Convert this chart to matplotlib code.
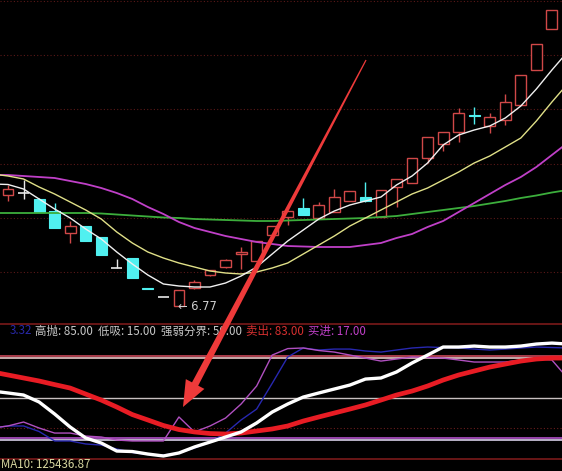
import numpy as np
import matplotlib
matplotlib.use('Agg')
import matplotlib.pyplot as plt
from matplotlib.patches import Polygon

plt.rcParams['font.family'] = ['Noto Sans CJK SC', 'DejaVu Sans']

# ---- candles (price) ----
opens  = [8.99, 9.03, 8.91, 8.67, 8.23, 8.37, 8.15, 7.53, 7.73, 7.14, 6.95, 6.77,
          7.13, 7.39, 7.55, 7.81, 7.67, 8.19, 8.55, 8.73, 8.53, 8.65, 8.87, 8.95,
          8.55, 9.15, 9.23, 9.73, 10.01, 10.25, 10.60, 10.37, 10.49, 10.79, 11.49, 12.31]
closes = [9.11, 9.03, 8.65, 8.33, 8.37, 8.07, 7.79, 7.53, 7.33, 7.12, 6.95, 7.09,
          7.25, 7.49, 7.69, 7.85, 8.07, 8.37, 8.67, 8.59, 8.79, 8.95, 9.07, 8.87,
          9.09, 9.31, 9.73, 10.15, 10.25, 10.63, 10.58, 10.55, 10.85, 11.39, 12.01, 12.69]
highs  = [9.19, 9.29, 8.93, 8.83, 8.47, 8.37, 8.15, 7.71, 7.73, 7.14, 6.95, 7.09,
          7.29, 7.49, 7.71, 7.95, 8.07, 8.37, 8.67, 8.93, 8.85, 9.11, 9.07, 9.25,
          9.09, 9.31, 9.73, 10.15, 10.25, 10.73, 10.75, 10.63, 11.01, 11.39, 12.01, 12.69]
lows   = [8.87, 8.91, 8.65, 8.33, 8.03, 8.07, 7.79, 7.53, 7.33, 7.12, 6.95, 6.77,
          7.11, 7.37, 7.53, 7.51, 7.67, 8.17, 8.39, 8.59, 8.53, 8.65, 8.87, 8.85,
          8.55, 8.75, 9.23, 9.63, 9.87, 10.05, 10.41, 10.23, 10.39, 10.79, 11.49, 12.31]
low_label = '6.77'
low_index = 11

# ---- moving averages, index -1 .. 36 ----
ma5  = [9.21, 9.20, 9.11, 8.91, 8.71, 8.53, 8.31, 8.11, 7.85, 7.61, 7.39, 7.21, 7.17,
        7.15, 7.15, 7.23, 7.37, 7.55, 7.81, 8.07, 8.29, 8.51, 8.67, 8.79, 8.87, 8.95,
        9.19, 9.37, 9.63, 9.99, 10.19, 10.29, 10.37, 10.53, 10.77, 11.11, 11.49, 11.85]
ma10 = [9.41, 9.37, 9.31, 9.15, 9.01, 8.85, 8.69, 8.51, 8.25, 8.03, 7.85, 7.73, 7.63,
        7.55, 7.47, 7.43, 7.41, 7.45, 7.53, 7.63, 7.81, 7.99, 8.17, 8.37, 8.53, 8.69,
        8.85, 9.01, 9.13, 9.29, 9.45, 9.63, 9.77, 9.95, 10.13, 10.47, 10.85, 11.21]
ma20 = [9.39, 9.39, 9.37, 9.35, 9.33, 9.27, 9.21, 9.13, 9.03, 8.91, 8.75, 8.61, 8.45,
        8.33, 8.25, 8.17, 8.11, 8.05, 8.01, 7.97, 7.96, 7.95, 7.95, 7.95, 7.99, 8.03,
        8.13, 8.21, 8.35, 8.47, 8.65, 8.83, 9.01, 9.19, 9.35, 9.55, 9.79, 10.03]
ma60 = [8.63, 8.63, 8.63, 8.63, 8.63, 8.63, 8.63, 8.62, 8.60, 8.58, 8.56, 8.54, 8.53,
        8.51, 8.50, 8.49, 8.48, 8.47, 8.47, 8.48, 8.49, 8.50, 8.51, 8.52, 8.53, 8.55,
        8.57, 8.61, 8.65, 8.69, 8.73, 8.77, 8.82, 8.87, 8.93, 8.98, 9.04, 9.09]
grid_levels = [12.87, 11.79, 10.71, 9.61, 8.53, 7.45]

# ---- indicator panel, index -1 .. 36 ----
fast = [55.8, 54.2, 52.5, 46.7, 36.7, 25.8, 16.7, 12.5, 5.8, 5.4, 3.3, 1.7, 4.2, 9.2,
        13.3, 17.5, 21.7, 29.2, 38.3, 45.0, 50.8, 54.2, 57.5, 60.8, 65.8, 66.7, 71.7,
        79.2, 85.8, 92.5, 92.5, 93.3, 92.5, 92.5, 93.3, 95.0, 95.8, 95.0]
slow = [71.7, 69.2, 66.7, 64.2, 61.2, 58.3, 53.3, 48.3, 42.5, 36.2, 31.7, 27.1, 23.7,
        21.7, 20.4, 20.0, 20.8, 22.5, 24.2, 26.7, 30.8, 34.2, 37.5, 40.8, 44.2, 48.3,
        52.5, 55.8, 60.0, 65.0, 69.2, 72.5, 75.8, 78.3, 80.8, 82.5, 83.3, 83.3]
blue = [25.0, 26.7, 26.7, 22.1, 14.2, 14.2, 11.7, 10.8, 7.5, 4.6, 2.9, 2.5, 4.2, 8.3,
        13.3, 20.8, 31.7, 40.8, 62.2, 84.2, 91.7, 90.0, 90.8, 90.8, 89.2, 88.3, 90.0,
        91.7, 92.5, 92.1, 91.7, 90.8, 90.0, 90.8, 91.7, 92.5, 92.1, 91.7]
pink = [25.0, 26.7, 30.0, 25.0, 20.8, 20.8, 18.3, 17.5, 15.0, 14.2, 14.2, 14.2, 34.2,
        21.7, 26.7, 33.3, 45.0, 60.0, 85.8, 91.2, 91.7, 89.6, 88.3, 85.8, 83.3, 80.8,
        82.5, 84.2, 83.8, 83.3, 81.7, 80.0, 80.0, 80.0, 81.7, 82.9, 81.7, 66.7]
level_high, level_low, level_mid, level_sell, level_buy = 85, 15, 50, 83, 17
prev_value = '3.32'
ma10_vol = '125436.87'

n = len(opens)
x = np.arange(n)
xl = np.arange(-1, n + 1)

fig = plt.figure(figsize=(5.62, 4.71), dpi=100, facecolor='black')
ax1 = fig.add_axes([0, 1 - 322 / 471, 1, 322 / 471], facecolor='black')
ax2 = fig.add_axes([0, 1 - 459 / 471, 1, 135 / 471], facecolor='black')
for ax in (ax1, ax2):
    ax.set_xlim(-8 / 15.54, 554 / 15.54)
    ax.set_xticks([])
    ax.set_yticks([])
for s in ax1.spines.values():
    s.set_visible(False)
ax1.set_ylim(6.45, 12.89)
ax2.set_ylim(-0.83, 111.7)
for k, s in ax2.spines.items():
    s.set_visible(k in ('top', 'bottom'))
    s.set_color('#7a1a1a')
    s.set_linewidth(1.2)

# top panel
for g in grid_levels:
    ax1.axhline(g, color='#5a1818', lw=0.8, ls=(0, (1, 2)), zorder=1)

up_c, dn_c, flat_c = '#d04848', '#50f0f0', '#e8e8e8'
w = 0.7
for i in range(n):
    o, c, h, l = opens[i], closes[i], highs[i], lows[i]
    if c > o:
        col = up_c
        ax1.vlines(i, l, h, color=col, lw=1, zorder=2)
        ax1.bar(i, c - o, bottom=o, width=w, facecolor='black', edgecolor=col, lw=1, zorder=3)
    elif c < o:
        col = dn_c
        ax1.vlines(i, l, h, color=col, lw=1, zorder=2)
        ax1.bar(i, o - c, bottom=c, width=w, facecolor=col, edgecolor=col, lw=0.8, zorder=3)
    else:
        ax1.vlines(i, l, h, color=flat_c, lw=1, zorder=2)
        ax1.hlines(o, i - w / 2, i + w / 2, color=flat_c, lw=1.2, zorder=3)

ax1.plot(xl, ma60, color='#3cae3c', lw=1.3, zorder=4)
ax1.plot(xl, ma20, color='#c040c8', lw=1.3, zorder=4)
ax1.plot(xl, ma10, color='#e0e088', lw=1.0, zorder=4)
ax1.plot(xl, ma5, color='#f0f0f0', lw=1.0, zorder=4)
ax1.text(low_index - 0.06, lows[low_index], '\u2190 ' + low_label, color='#d0d0d0',
         fontsize=8.3, va='center', ha='left', family='DejaVu Sans', zorder=5)

# lower panel
ax2.axhline(25, color='#6a1c1c', lw=0.8, ls=(0, (1, 2)))
ax2.axhline(level_high, color='#c84858', lw=1.2)
ax2.axhline(level_sell, color='#e8c8c8', lw=1.2)
ax2.axhline(level_mid, color='#c8c0c0', lw=1.0)
ax2.axhline(level_buy, color='#b050c8', lw=1.2)
ax2.axhline(level_low, color='#d8d0e8', lw=1.2)
ax2.plot(xl, blue, color='#2828b0', lw=1.0)
ax2.plot(xl, pink, color='#b050c0', lw=1.0)
ax2.plot(xl, slow, color='#e81c24', lw=3.4)
ax2.plot(xl, fast, color='#ffffff', lw=2.4)

# label row
labels = [(10, prev_value, '#2828a8'),
          (35, '高抛: 85.00', '#c8c8c8'),
          (98, '低吸: 15.00', '#c8c8c8'),
          (161, '强弱分界: 50.00', '#c8c8c8'),
          (246, '卖出: 83.00', '#d83030'),
          (308, '买进: 17.00', '#c040c8')]
for px, t, col in labels:
    fig.text(px / 562, 1 - 331 / 471, t, color=col, fontsize=8.3, va='center', ha='left')
fig.text(1 / 562, 1 - 465 / 471, 'MA10: ' + ma10_vol, color='#d8d8a0', fontsize=8.3,
         va='center', ha='left')

# red arrow from the price chart down to the indicator dip
tail = ax1.transData.transform((23.04, 11.69))
head = ax2.transData.transform((11.26, 42.5))
d = (head - tail) / np.hypot(*(head - tail))
nv = np.array([-d[1], d[0]])
base = head - d * 26
pts = [tail + nv * 0.6, base + nv * 3.5, base + nv * 10.5, head,
       base - nv * 10.5, base - nv * 3.5, tail - nv * 0.6]
pts = fig.transFigure.inverted().transform(np.array(pts))
fig.add_artist(Polygon(pts, closed=True, transform=fig.transFigure,
                       facecolor='#ee3a3a', edgecolor='none', zorder=10))

fig.savefig('out.png', dpi=100, facecolor='black')
